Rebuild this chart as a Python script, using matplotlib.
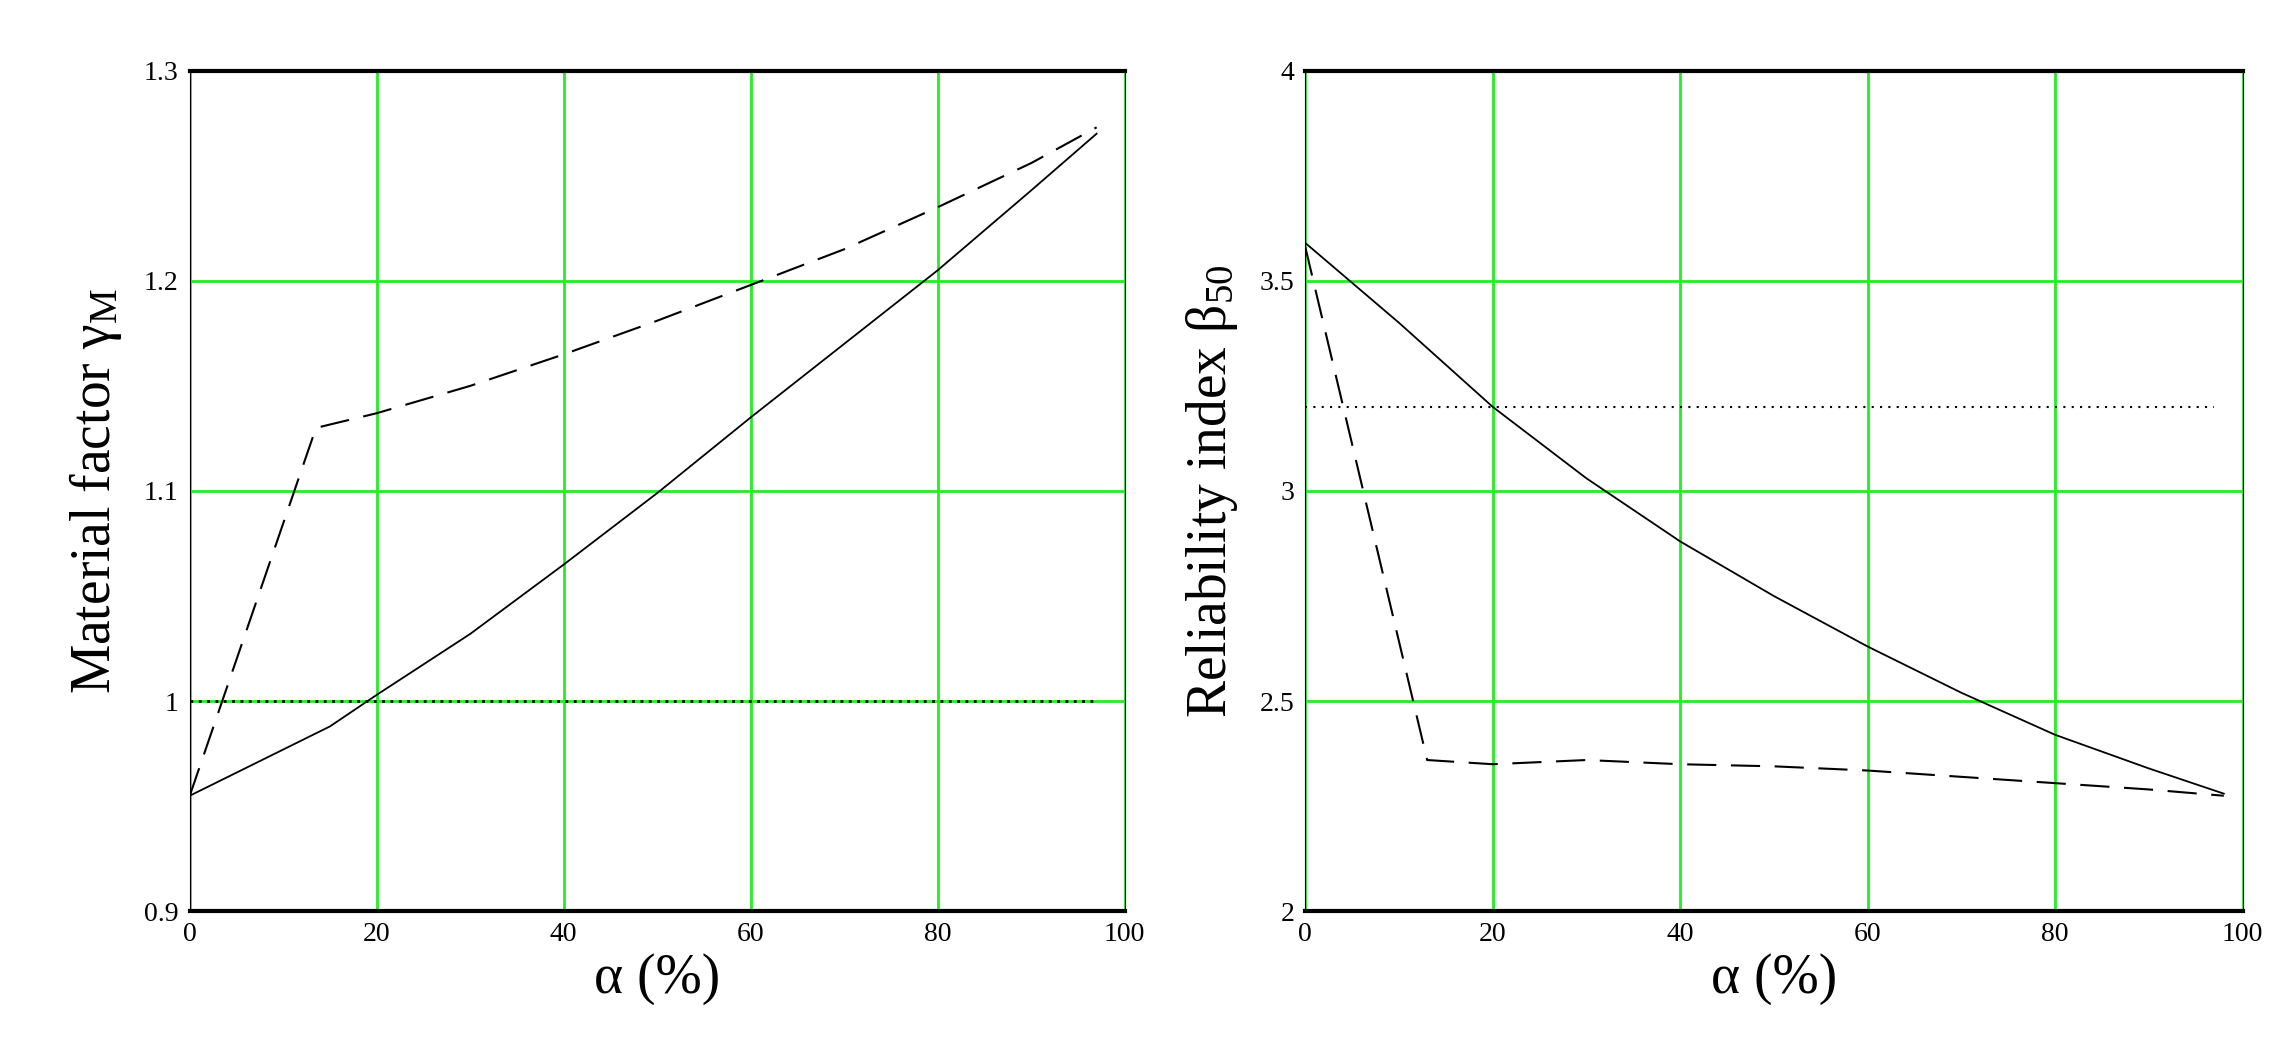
import matplotlib
matplotlib.use("Agg")
import matplotlib.pyplot as plt

plt.rcParams["mathtext.fontset"] = "custom"
plt.rcParams["mathtext.rm"] = "Liberation Serif"
plt.rcParams["mathtext.it"] = "Liberation Serif"
plt.rcParams["mathtext.default"] = "rm"

# Left panel: material factor
alpha_solid_l = [0, 5, 10, 15, 20, 30, 40, 50, 60, 70, 80, 90, 97]
gamma_solid = [0.955, 0.966, 0.977, 0.988, 1.003, 1.032, 1.065, 1.099, 1.135, 1.170, 1.205, 1.243, 1.270]
alpha_dash_l = [0, 13.5, 20, 30, 40, 50, 60, 70, 80, 90, 97]
gamma_dash = [0.955, 1.130, 1.137, 1.150, 1.165, 1.181, 1.198, 1.215, 1.235, 1.256, 1.273]
gamma_ref = 1.0

# Right panel: reliability index
alpha_solid_r = [0, 10, 20, 30, 40, 50, 60, 70, 80, 90, 98]
beta_solid = [3.59, 3.40, 3.20, 3.03, 2.88, 2.75, 2.63, 2.52, 2.42, 2.34, 2.28]
alpha_dash_r = [0, 13, 20, 30, 40, 50, 60, 70, 80, 90, 98]
beta_dash = [3.58, 2.36, 2.35, 2.36, 2.35, 2.345, 2.335, 2.32, 2.305, 2.29, 2.275]
beta_ref = 3.2

xticks = [0, 20, 40, 60, 80, 100]

fig = plt.figure(figsize=(22.86, 10.38), dpi=100)
ax1 = fig.add_axes([0.083, 0.122, 0.409, 0.81])
ax2 = fig.add_axes([0.571, 0.122, 0.410, 0.81])

green = "#22ee22"
serif = "Liberation Serif"


def style(ax, ylim, yticks, ylabels, ylab):
    ax.set_xlim(0, 100)
    ax.set_ylim(*ylim)
    ax.set_xticks(xticks)
    ax.set_yticks(yticks)
    ax.set_yticklabels(ylabels)
    ax.grid(True, color=green, linewidth=2)
    ax.set_axisbelow(True)
    ax.tick_params(length=0, labelsize=20, pad=8)
    for lab in ax.get_xticklabels() + ax.get_yticklabels():
        lab.set_fontfamily(serif)
    for s in ["top", "bottom"]:
        ax.spines[s].set_linewidth(3)
    for s in ["left", "right"]:
        ax.spines[s].set_linewidth(0.8)
    ax.set_xlabel("α (%)", fontsize=40, family=serif, labelpad=4)
    ax.set_ylabel(ylab, fontsize=40, family=serif, labelpad=14)


ax1.plot(alpha_solid_l, gamma_solid, color="black", linewidth=1.3)
ax1.plot(alpha_dash_l, gamma_dash, color="black", linewidth=1.5, dashes=(14, 7))
ax1.plot([0, 97], [gamma_ref, gamma_ref], color="black", linewidth=2, linestyle=(0, (1, 2)))
style(ax1, (0.9, 1.3), [0.9, 1.0, 1.1, 1.2, 1.3], ["0.9", "1", "1.1", "1.2", "1.3"],
      r"Material factor γ$_\mathrm{M}$")

ax2.plot(alpha_solid_r, beta_solid, color="black", linewidth=1.3)
ax2.plot(alpha_dash_r, beta_dash, color="black", linewidth=1.5, dashes=(14, 7))
ax2.plot([0, 97], [beta_ref, beta_ref], color="black", linewidth=1.5, linestyle=(0, (1, 3)))
style(ax2, (2, 4), [2, 2.5, 3, 3.5, 4], ["2", "2.5", "3", "3.5", "4"],
      r"Reliability index β$_{50}$")

fig.savefig("out.png", dpi=100)
